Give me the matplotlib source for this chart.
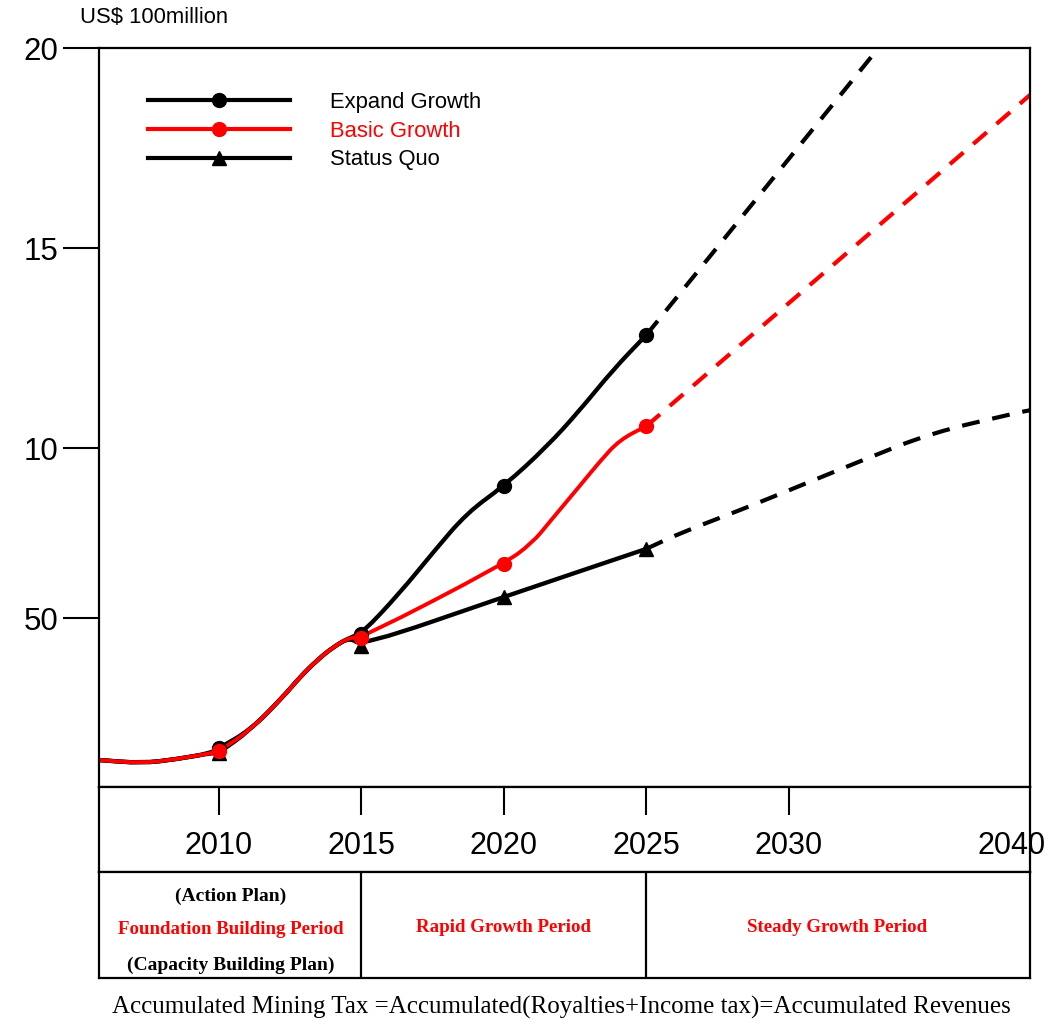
"""accumulated mining tax projection"""

import matplotlib
matplotlib.use("Agg")
from matplotlib import pyplot as plt
from matplotlib.lines import Line2D
from matplotlib.path import Path
from matplotlib.patches import PathPatch

# years and values (unit: US$ 100million, as drawn)
marker_years = [2010, 2015, 2020, 2025]

early_years = [2005.8, 2007.3, 2008.5, 2009.7]
early_vals = [2.2, 2.12, 2.22, 2.37]

rise_years = [2011.1, 2012.25, 2012.85, 2013.45, 2014.0, 2014.6]
rise_vals = [2.95, 3.78, 4.28, 4.7, 5.02, 5.27]

expand_years = [2016.35, 2017.5, 2018.7, 2020, 2021.5, 2022.67, 2023.82, 2025]
expand_vals = [6.38, 7.38, 8.38, 9.05, 10.03, 10.95, 11.95, 12.83]
expand_dash_years = [2025, 2033.2]
expand_dash_vals = [12.83, 20.05]

basic_years = [2020, 2021.0, 2021.6, 2022.75, 2023.35, 2024.05, 2025]
basic_vals = [7.1, 7.63, 8.15, 9.13, 9.65, 10.2, 10.55]
basic_dash_years = [2025, 2038.5]
basic_dash_vals = [10.55, 18.85]

status_years = [2020, 2025]
status_vals = [6.28, 7.48]
status_dash_years = [2025, 2026.2, 2028.3, 2030.3, 2032.6, 2035.0, 2038.0, 2038.5]
status_dash_vals = [7.48, 7.88, 8.45, 9.03, 9.7, 10.38, 10.88, 10.95]

start_2010 = {"Expand Growth": 2.5, "Basic Growth": 2.42, "Status Quo": 2.38}
at_2015 = {"Expand Growth": 5.35, "Basic Growth": 5.25, "Status Quo": 5.05}

ytick_vals = [5.75, 10, 15, 20]
ytick_labels = ["50", "10", "15", "20"]
xtick_years = [2010, 2015, 2020, 2025, 2030]
xtick_labels = ["2010", "2015", "2020", "2025", "2030"]

plt.rcParams["font.family"] = ["Liberation Sans", "DejaVu Sans"]
serif = ["Liberation Serif", "DejaVu Serif"]


def smooth_path(xs, ys):
    # quadratic bezier through the midpoints, data points act as controls
    pts = list(zip(xs, ys))
    if len(pts) < 3:
        return Path(pts)
    verts = [pts[0]]
    codes = [Path.MOVETO]
    mid = lambda a, b: ((a[0] + b[0]) / 2, (a[1] + b[1]) / 2)
    verts.append(mid(pts[0], pts[1]))
    codes.append(Path.LINETO)
    for i in range(1, len(pts) - 1):
        verts += [pts[i], mid(pts[i], pts[i + 1])]
        codes += [Path.CURVE3, Path.CURVE3]
    verts.append(pts[-1])
    codes.append(Path.LINETO)
    return Path(verts, codes)


fig = plt.figure(figsize=(10.51, 10.22), dpi=100)
ax = fig.add_axes([0.0942, 0.2299, 0.8858, 0.7231])
xlim = (2005.79, 2038.46)

series = [
    ("Expand Growth", "black", "o", expand_years, expand_vals, expand_dash_years, expand_dash_vals),
    ("Status Quo", "black", "^", status_years, status_vals, status_dash_years, status_dash_vals),
    ("Basic Growth", "red", "o", basic_years, basic_vals, basic_dash_years, basic_dash_vals),
]

for name, col, mk, yrs, vals, dyrs, dvals in series:
    xs = early_years + [2010] + rise_years + [2015] + yrs
    ys = early_vals + [start_2010[name]] + rise_vals + [at_2015[name]] + vals
    lw = 2.8 if col == "red" else 3.1
    ax.add_patch(PathPatch(smooth_path(xs, ys), fill=False, edgecolor=col, lw=lw,
                           capstyle="butt", joinstyle="round"))
    ax.add_patch(PathPatch(smooth_path(dyrs, dvals), fill=False, edgecolor=col, lw=3.0,
                           linestyle=(0, (4.3, 3.1)), capstyle="butt"))
    mx = [x for x in xs if x in marker_years]
    my = [y for x, y in zip(xs, ys) if x in marker_years]
    ax.plot(mx, my, linestyle="none", marker=mk, markersize=10, color=col)

order = [("Expand Growth", "black", "o"), ("Basic Growth", "red", "o"), ("Status Quo", "black", "^")]
leg_handles = [Line2D([], [], color=c, lw=3.0, marker=m, markersize=10) for _, c, m in order]
ax.legend(leg_handles, [n for n, _, _ in order], loc="upper left",
          bbox_to_anchor=(0.0526, 0.941), frameon=False, fontsize=15.8,
          handlelength=6.48, handletextpad=1.83, labelspacing=0.36, borderpad=0,
          borderaxespad=0, numpoints=1, labelcolor=["black", "red", "black"])

ax.set_xlim(*xlim)
ax.set_ylim(1.525, 20)
ax.set_xticks([])
ax.set_yticks(ytick_vals)
ax.set_yticklabels(ytick_labels, fontsize=22.5)
ax.tick_params(axis="y", direction="out", length=26, width=1.5, pad=3.5)
for s in ax.spines.values():
    s.set_linewidth(1.6)

fig.text(0.0761, 0.9824, "US$ 100million", fontsize=15.8, va="center", ha="left")

# year row
axy = fig.add_axes([0.0942, 0.1468, 0.8858, 0.0831])
axy.set_xlim(*xlim)
axy.set_ylim(0, 1)
axy.set_yticks([])
axy.set_xticks(xtick_years)
axy.set_xticklabels([])
axy.tick_params(axis="x", top=True, bottom=False, direction="in", length=20, width=1.5)
for s in axy.spines.values():
    s.set_linewidth(1.6)
for yr, lab in zip(xtick_years, xtick_labels):
    axy.text(yr, 0.31, lab, ha="center", va="center", fontsize=22)
axy.text(2037.8, 0.31, "2040", ha="center", va="center", fontsize=22, clip_on=False)

# period table
axt = fig.add_axes([0.0942, 0.0431, 0.8858, 0.1037])
axt.set_xlim(*xlim)
axt.set_ylim(0, 1)
axt.set_xticks([])
axt.set_yticks([])
for s in axt.spines.values():
    s.set_linewidth(1.6)
for yr in [2015, 2025]:
    axt.axvline(yr, color="black", lw=1.6)

axt.text(2010.4, 0.77, "(Action Plan)", ha="center", va="center", fontsize=14,
         family=serif, weight="bold", color="black")
axt.text(2010.4, 0.455, "Foundation Building Period", ha="center", va="center",
         fontsize=13.6, family=serif, weight="bold", color="red")
axt.text(2010.4, 0.115, "(Capacity Building Plan)", ha="center", va="center", fontsize=14,
         family=serif, weight="bold", color="black")
axt.text(2020, 0.48, "Rapid Growth Period", ha="center", va="center", fontsize=13.6,
         family=serif, weight="bold", color="red")
axt.text(2031.7, 0.48, "Steady Growth Period", ha="center", va="center", fontsize=13.6,
         family=serif, weight="bold", color="red")

fig.text(0.534, 0.0145, "Accumulated Mining Tax =Accumulated(Royalties+Income tax)=Accumulated Revenues",
         ha="center", va="center", fontsize=18, family=serif)

fig.savefig("out.png", dpi=100)
